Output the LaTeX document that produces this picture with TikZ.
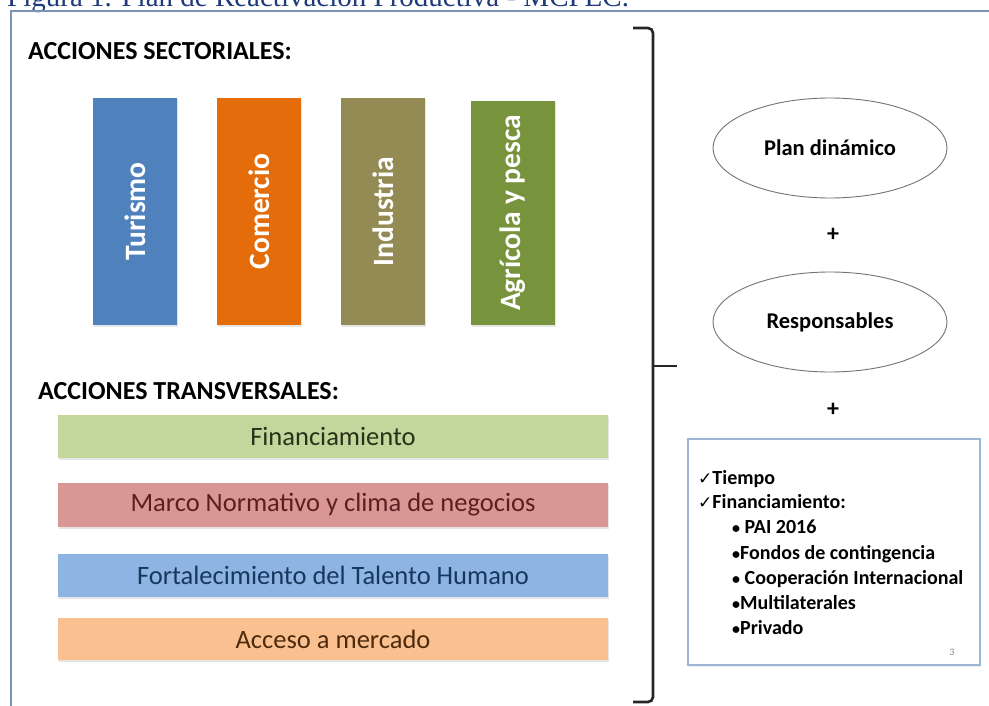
\documentclass[tikz,border=0pt]{standalone}
\usepackage{fontspec}
\setmainfont{Carlito}
\newfontfamily\titlefont{Liberation Serif}
\newfontfamily\symfont{DejaVu Sans}
\newcommand\chkmark{{\symfont\bfseries\fontsize{17}{18}\selectfont ✓}}
\newcommand\smbul{{\fontsize{16}{16}\selectfont •}}
\usetikzlibrary{shapes.geometric,shadows}
\definecolor{titleblue}{HTML}{1F3A7A}
\definecolor{framec}{HTML}{7C93B5}
\definecolor{cTur}{HTML}{4F81BD}
\definecolor{cCom}{HTML}{E46C0A}
\definecolor{cInd}{HTML}{948A54}
\definecolor{cAgr}{HTML}{77933C}
\definecolor{cFin}{HTML}{C3D69B}
\definecolor{tFin}{HTML}{26321A}
\definecolor{cMar}{HTML}{D99694}
\definecolor{tMar}{HTML}{5A1F1E}
\definecolor{cFor}{HTML}{8EB4E3}
\definecolor{tFor}{HTML}{17375E}
\definecolor{cAcc}{HTML}{FAC090}
\definecolor{tAcc}{HTML}{4D2A0C}
\definecolor{boxc}{HTML}{9DB4D6}
\begin{document}
\begin{tikzpicture}[x=1pt,y=-1pt,
  vbar/.style={rotate=90, minimum width=227, minimum height=84, inner sep=0,
    text=white, font=\bfseries\fontsize{29.5}{30}\selectfont,
    drop shadow={opacity=0.2, shadow xshift=1pt, shadow yshift=-1.5pt}},
  hbar/.style={minimum width=550, minimum height=43, inner sep=0,
    font=\fontsize{26.5}{28}\selectfont,
    drop shadow={opacity=0.2, shadow xshift=1pt, shadow yshift=-1.5pt}},
  heading/.style={anchor=west, inner sep=0, font=\bfseries\fontsize{26}{28}\selectfont},
  oval/.style={ellipse, draw=black!55, line width=0.9pt, minimum width=234, minimum height=100,
    inner sep=0, font=\bfseries\fontsize{22.5}{24}\selectfont},
  plus/.style={inner sep=0, font=\bfseries\fontsize{24}{24}\selectfont},
  boxline/.style={anchor=base west, inner sep=0, font=\bfseries\fontsize{20}{22}\selectfont}
]
\clip (0,0) rectangle (989,706);
\fill[white] (0,0) rectangle (989,706);

% title (cut at top)
\node[anchor=base west, inner sep=0, text=titleblue, font=\titlefont\fontsize{29}{32}\selectfont] (title) at (7,7) {Figura 1. Plan de Reactivación Productiva - MCPEC.};

% frame
\draw[framec, line width=2.5pt] (11,706) -- (11,11) -- (989,11);

% headings
\node[heading] (hsec) at (28,51) {ACCIONES SECTORIALES:};
\node[heading] (htra) at (38,391) {ACCIONES TRANSVERSALES:};

% vertical bars
\node[vbar, fill=cTur] (tur) at (135,211.5) {Turismo};
\node[vbar, fill=cCom] (com) at (259,211.5) {Comercio};
\node[vbar, fill=cInd] (ind) at (383,211.5) {Industria};
\node[vbar, fill=cAgr, minimum width=224] (agr) at (513,213) {Agrícola y pesca};

% horizontal bars
\node[hbar, fill=cFin, text=tFin] (fin) at (333,436.5) {Financiamiento};
\node[hbar, fill=cMar, text=tMar, minimum height=44] (mar) at (333,505) {Marco Normativo y clima de negocios};
\node[hbar, fill=cFor, text=tFor] (for) at (333,575.5) {Fortalecimiento del Talento Humano};
\node[hbar, fill=cAcc, text=tAcc, minimum height=42] (acc) at (333,639) {Acceso a mercado};

% bracket
\draw[black!85, line width=2.6pt, rounded corners=5pt] (633,28) -- (653,28) -- (653,702) -- (633,702);
\draw[black!85, line width=2.6pt] (653,366) -- (677,366);

% right side
\node[oval] (plan) at (830,148) {Plan dinámico};
\node[plus] (p1) at (833,235) {+};
\node[oval] (resp) at (830,322) {Responsables};
\node[plus] (p2) at (833,410) {+};

\draw[boxc, line width=1.3pt, fill=white,
  drop shadow={opacity=0.15, shadow xshift=1pt, shadow yshift=-1.5pt}] (688,439) rectangle (980,665);
\node[boxline] (l1) at (698,484) {\chkmark Tiempo};
\node[boxline] (l2) at (698,508) {\chkmark Financiamiento:};
\node[boxline] (l3) at (732,533) {\smbul\ PAI 2016};
\node[boxline] (l4) at (732,559) {\smbul Fondos de contingencia};
\node[boxline] (l5) at (732,584) {\smbul\ Cooperación Internacional};
\node[boxline] (l6) at (732,609) {\smbul Multilaterales};
\node[boxline] (l7) at (732,634) {\smbul Privado};
\node[inner sep=0, text=black!45, font=\fontsize{10}{12}\selectfont] (pg) at (952,652) {3};
\end{tikzpicture}
\end{document}
